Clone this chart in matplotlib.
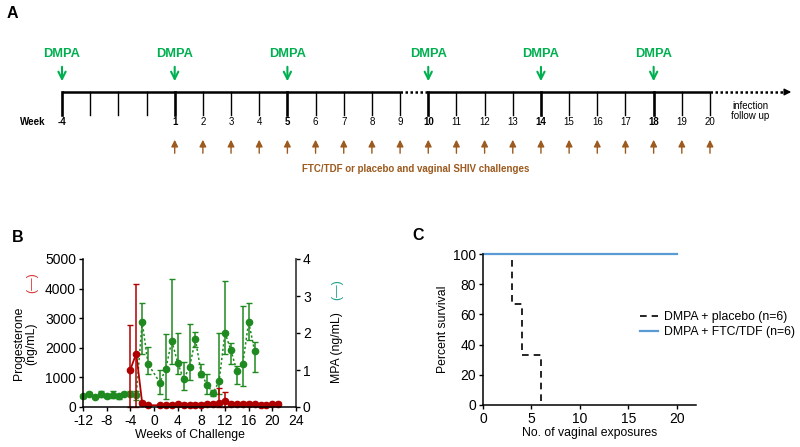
import numpy as np
import matplotlib
matplotlib.use("Agg")
from matplotlib import pyplot as plt

plt.rcParams['font.family'] = ['Liberation Sans', 'DejaVu Sans']
plt.rcParams['axes.unicode_minus'] = False

# --- panel A: study timeline ---
week_labels = ['-4', '', '', '', '1', '2', '3', '4', '5', '6', '7', '8', '9',
               '10', '11', '12', '13', '14', '15', '16', '17', '18', '19', '20']
dmpa_weeks = ['-4', '1', '5', '10', '14', '18']
challenge_weeks = [str(w) for w in range(1, 21)]

# --- panel B: hormone levels ---
mpa_weeks = [-12, -11, -10, -9, -8, -7, -6, -5, -4, -3, -2, -1,
             1, 2, 3, 4, 5, 6, 7, 8, 9, 10, 11, 12, 13, 14, 15, 16, 17]
mpa_vals = [0.29, 0.36, 0.27, 0.34, 0.29, 0.33, 0.29, 0.36, 0.36, 0.32, 2.30, 1.16,
            0.66, 1.04, 1.79, 1.20, 0.75, 1.07, 1.83, 0.90, 0.59, 0.38, 0.70, 2.01,
            1.53, 0.98, 1.16, 2.30, 1.52]
mpa_err_hi = [0.04, 0.04, 0.03, 0.08, 0.04, 0.10, 0.07, 0.04, 0.06, 0.12, 0.52, 0.47,
              0.35, 0.92, 1.66, 0.81, 0.47, 1.16, 0.20, 0.27, 0.29, 0.09, 1.31, 1.40,
              0.19, 0.13, 1.57, 0.52, 0.24]
mpa_err_lo = [0.04, 0.04, 0.03, 0.08, 0.04, 0.10, 0.07, 0.04, 0.06, 0.12, 0.86, 0.28,
              0.30, 0.83, 0.62, 0.32, 0.30, 0.35, 0.20, 0.09, 0.23, 0.09, 0.34, 0.57,
              0.36, 0.37, 0.59, 0.49, 0.57]

prog_weeks = [-4, -3, -2, -1, 1, 2, 3, 4, 5, 6, 7, 8, 9, 10, 11, 12, 13, 14, 15,
              16, 17, 18, 19, 20, 21]
prog_vals = [1264, 1806, 135, 56, 60, 70, 80, 90, 80, 70, 80, 80, 100, 110, 150, 190,
             100, 90, 110, 100, 90, 80, 70, 90, 100]
prog_err = [1500, 2350, 60, 20, 30, 30, 40, 40, 40, 40, 40, 40, 50, 60, 500, 320,
            60, 50, 60, 60, 50, 40, 40, 50, 60]

# --- panel C: survival ---
placebo_x = [0, 3, 4, 6]
placebo_y = [100, 66.67, 33.33, 0]
ftc_x = [0, 20]
ftc_y = [100, 100]

GREEN_A = '#00b050'
BROWN = '#9c5a1e'
GREEN_B = '#1f8a1f'
RED_B = '#b00000'
TEAL = '#1fa08a'
BLUE = '#5b9bd5'

TICK_FS = 10
LABEL_FS = 8.8

fig = plt.figure(figsize=(8, 4.47), dpi=100)

# ---------------- A ----------------
ax = fig.add_axes([0, 0.5, 1, 0.5])
ax.axis('off')
px = 28.17  # pixels per week slot
ax.set_xlim(-62 / px, 23 + 90 / px)
ax.set_ylim(223.5, 0)
pos = {lab: i for i, lab in enumerate(week_labels) if lab}
idx = np.arange(len(week_labels))

ax.text(-62 / px + 7 / px, 13, 'A', fontsize=11.5, fontweight='bold', va='center')
ax.plot([0, pos['9']], [92, 92], color='black', lw=1.8, solid_capstyle='butt')
ax.plot([pos['9'], pos['10']], [92, 92], color='black', lw=1.8, ls=(0, (1, 1)))
ax.plot([pos['10'], pos['20']], [92, 92], color='black', lw=1.8, solid_capstyle='butt')
ax.plot([pos['20'], 23 + 76 / px], [92, 92], color='black', lw=1.8, ls=(0, (1, 1)))
ax.annotate('', xy=(23 + 84 / px, 92), xytext=(23 + 72 / px, 92),
            arrowprops=dict(arrowstyle='-|>', color='black', lw=1, mutation_scale=10))

for i, lab in zip(idx, week_labels):
    bold = lab in dmpa_weeks
    ax.plot([i, i], [92, 115], color='black', lw=1.9 if bold else 1.0)
    if lab:
        ax.text(i, 122, lab, ha='center', va='center', fontsize=7,
                fontweight='bold' if bold else 'normal')
ax.text(-29 / px, 122, 'Week', ha='center', va='center', fontsize=7, fontweight='bold')

for w in dmpa_weeks:
    ax.text(pos[w], 54, 'DMPA', ha='center', va='center', fontsize=9.3,
            fontweight='bold', color=GREEN_A)
    ax.annotate('', xy=(pos[w], 84), xytext=(pos[w], 64),
                arrowprops=dict(arrowstyle='->', color=GREEN_A, lw=1.5, mutation_scale=13))

for w in challenge_weeks:
    ax.annotate('', xy=(pos[w], 137), xytext=(pos[w], 156),
                arrowprops=dict(arrowstyle='-|>', color=BROWN, lw=1.0, mutation_scale=10))
ax.text((416 - 62) / px, 169, 'FTC/TDF or placebo and vaginal SHIV challenges',
        ha='center', va='center', fontsize=7, fontweight='bold', color=BROWN)
ax.text(23 + 40 / px, 111, 'infection\nfollow up', ha='center', va='center',
        fontsize=7, linespacing=1.1)

# ---------------- B ----------------
fig.text(12 / 800, 1 - 237 / 447, 'B', fontsize=11.5, fontweight='bold', va='center')
axb = fig.add_axes([83 / 800, 1 - 407 / 447, 213 / 800, 148 / 447])
axr = axb.twinx()
axb.set_zorder(axr.get_zorder() + 1)
axb.patch.set_visible(False)

axr.errorbar(mpa_weeks, mpa_vals, yerr=[mpa_err_lo, mpa_err_hi], color=GREEN_B,
             ls=(0, (1.5, 1.5)), lw=1.1, marker='o', ms=4.5, capsize=2, elinewidth=1.1,
             capthick=1, clip_on=False)
prog_lo = np.minimum(prog_err, prog_vals)
axb.errorbar(prog_weeks, prog_vals, yerr=[prog_lo, prog_err], color=RED_B, lw=1.3,
             marker='o', ms=4.5, capsize=2, elinewidth=1.1, capthick=1, clip_on=False)

axb.set_xlim(-12, 24)
axb.set_ylim(0, 5000)
axr.set_ylim(0, 4)
axb.set_xticks(np.arange(-12, 25, 4))
axb.set_yticks(np.arange(0, 5001, 1000))
axr.set_yticks(np.arange(0, 5, 1))
for a in (axb, axr):
    a.spines['top'].set_visible(False)
    a.tick_params(labelsize=TICK_FS, length=3, width=1, direction='out', pad=2)
axb.spines['right'].set_visible(False)
axr.spines['left'].set_visible(False)
axr.spines['bottom'].set_visible(False)
axr.spines['right'].set_color('#444444')
axr.spines['right'].set_linewidth(1.3)
axb.spines['left'].set_linewidth(1.1)
axb.spines['bottom'].set_linewidth(1.1)
axb.set_xlabel('Weeks of Challenge', fontsize=LABEL_FS, labelpad=1)
axb.set_ylabel('Progesterone\n(ng/mL)', fontsize=LABEL_FS, linespacing=1.0)
axb.yaxis.set_label_coords(-0.215, 0.43)
axr.set_ylabel('MPA (ng/mL)', fontsize=LABEL_FS)
axr.yaxis.set_label_coords(1.165, 0.40)
axb.text(-0.24, 0.84, '(—)', transform=axb.transAxes, rotation=90, color='#d83838',
         fontsize=9, ha='center', va='center')
axb.text(1.195, 0.79, '(—)', transform=axb.transAxes, rotation=90, color=TEAL,
         fontsize=9, ha='center', va='center')

# ---------------- C ----------------
fig.text(412 / 800, 1 - 236 / 447, 'C', fontsize=11.5, fontweight='bold', va='center')
axc = fig.add_axes([483 / 800, 1 - 405 / 447, 213 / 800, 151 / 447])
axc.step(placebo_x, placebo_y, where='post', color='black', lw=1.2, ls=(0, (4, 3)),
         label='DMPA + placebo (n=6)', clip_on=False)
axc.plot(ftc_x, ftc_y, color=BLUE, lw=1.6, label='DMPA + FTC/TDF (n=6)', clip_on=False)
axc.set_xlim(0, 22)
axc.set_ylim(0, 100)
axc.set_xticks(np.arange(0, 21, 5))
axc.set_yticks(np.arange(0, 101, 20))
axc.spines['top'].set_visible(False)
axc.spines['right'].set_visible(False)
axc.spines['left'].set_linewidth(1.1)
axc.spines['bottom'].set_linewidth(1.1)
axc.tick_params(labelsize=TICK_FS, length=3, width=1, pad=2)
axc.set_xlabel('No. of vaginal exposures', fontsize=LABEL_FS, labelpad=1)
axc.set_ylabel('Percent survival', fontsize=LABEL_FS, labelpad=3)
axc.legend(loc='center left', bbox_to_anchor=((640 - 483) / 213, 0.53), frameon=False,
           fontsize=LABEL_FS, handlelength=1.5, handletextpad=0.5, labelspacing=0.25,
           borderpad=0, borderaxespad=0)

fig.savefig('out.png', dpi=100)
